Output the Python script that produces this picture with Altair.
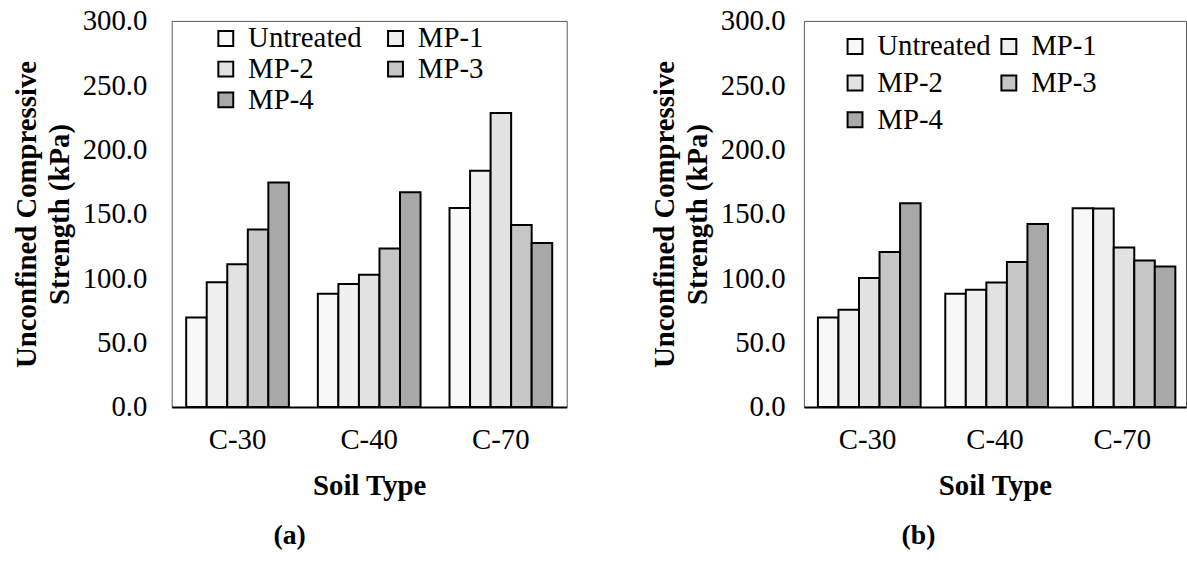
import altair as alt
import pandas as pd

soils = ["C-30", "C-40", "C-70"]
series = ["Untreated", "MP-1", "MP-2", "MP-3", "MP-4"]

# Panel (a) values, kPa, by soil type C-30, C-40, C-70
untreated_a = [69.5, 88.0, 154.7]
mp1_a = [96.9, 95.6, 183.5]
mp2_a = [111.0, 102.8, 228.5]
mp3_a = [138.0, 123.1, 141.4]
mp4_a = [174.5, 166.8, 127.5]

# Panel (b) values, kPa
untreated_b = [69.6, 88.0, 154.5]
mp1_b = [75.6, 91.1, 154.3]
mp2_b = [100.2, 96.8, 124.0]
mp3_b = [120.4, 112.6, 113.9]
mp4_b = [158.4, 142.3, 109.2]

y_ticks = [0, 50, 100, 150, 200, 250, 300]
fills = ["#f8f8f8", "#f0f0f0", "#e2e2e2", "#c6c6c6", "#a8a8a8"]

FONT = "Liberation Serif"
FS = 29


def frame(cols):
    rows = []
    for s, vals in zip(series, cols):
        for soil, v in zip(soils, vals):
            rows.append({"Soil": soil, "Series": s, "UCS": v})
    return pd.DataFrame(rows)


df_a = frame([untreated_a, mp1_a, mp2_a, mp3_a, mp4_a])
df_b = frame([untreated_b, mp1_b, mp2_b, mp3_b, mp4_b])


def panel(df, width, lx, ly, colpad, rowpad, labpad, caption):
    return alt.Chart(df).mark_bar(
        stroke="black", strokeWidth=2, fillOpacity=1
    ).encode(
        x=alt.X(
            "Soil:N", sort=soils,
            scale=alt.Scale(paddingInner=0.22, paddingOuter=0.11),
            axis=alt.Axis(
                title="Soil Type", labelAngle=0, ticks=False,
                labelFont=FONT, labelFontSize=FS, labelColor="black",
                labelPadding=19, titleFont=FONT, titleFontSize=FS,
                titleFontWeight="bold", titleColor="black", titlePadding=17,
                domainColor="black", domainWidth=2,
            ),
        ),
        xOffset=alt.XOffset(
            "Series:N", sort=series,
            scale=alt.Scale(paddingInner=0, paddingOuter=0),
        ),
        y=alt.Y(
            "UCS:Q",
            scale=alt.Scale(domain=[0, 300], nice=False),
            axis=alt.Axis(
                values=y_ticks, format=".1f", ticks=False, domain=False,
                grid=False, labelFont=FONT, labelFontSize=FS,
                labelColor="black", labelPadding=labpad,
                title=["Unconfined Compressive", "Strength (kPa)"],
                titleFont=FONT, titleFontSize=FS, titleFontWeight="bold",
                titleColor="black", titleLineHeight=33, titlePadding=8,
            ),
        ),
        color=alt.Color(
            "Series:N", sort=series,
            scale=alt.Scale(domain=series, range=fills),
            legend=alt.Legend(
                title=None, orient="none", legendX=lx, legendY=ly,
                direction="horizontal",
                columns=2, columnPadding=colpad, rowPadding=rowpad,
                symbolType="square", symbolSize=225,
                symbolStrokeColor="black", symbolStrokeWidth=2,
                labelFont=FONT, labelFontSize=FS, labelColor="black",
                labelOffset=8, labelLimit=400, padding=0,
            ),
        ),
    ).properties(
        width=width, height=389,
        title=alt.TitleParams(
            caption, orient="bottom", anchor="middle", frame="bounds",
            font=FONT, fontSize=28, fontWeight="bold", color="black",
            offset=22,
        ),
    )


pa = panel(df_a, 398, 40, 3, 19, 1, 25, "(a)")
pb = panel(df_b, 385, 37, 11, 3, 7, 19, "(b)")

chart = alt.hconcat(pa, pb, spacing=83).resolve_scale(
    color="independent"
).resolve_legend(color="independent").properties(
    padding={"left": 12, "top": 4, "right": 0, "bottom": 0},
    background="white",
).configure_view(stroke="#595959", strokeWidth=1)

chart.save("out.html", embed_options={"renderer": "svg", "actions": False})
